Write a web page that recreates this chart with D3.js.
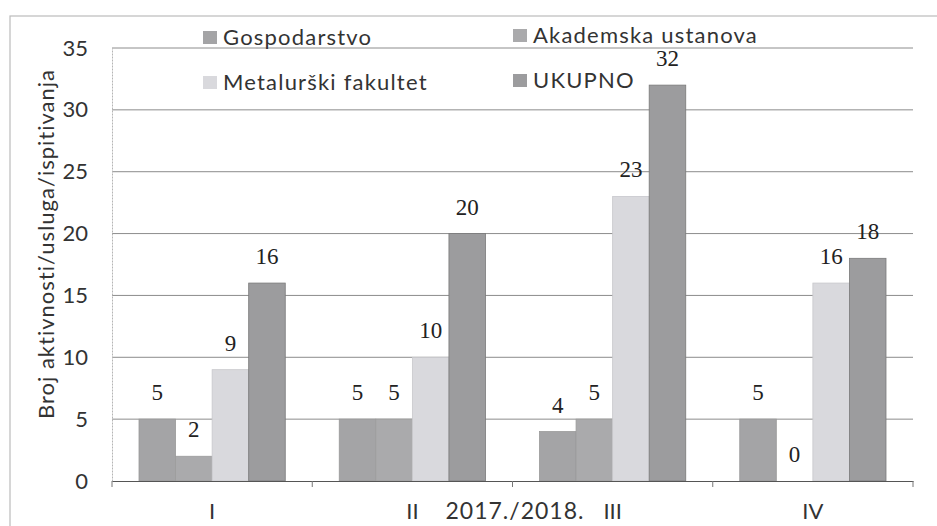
<!DOCTYPE html>
<html lang="hr">
<head>
<meta charset="UTF-8">
<title>Broj aktivnosti/usluga/ispitivanja 2017./2018.</title>
<script src="https://d3js.org/d3.v7.min.js"></script>
<style>
  body { margin: 0; background: #fff; }
  svg { display: block; }
  .tick-lbl { font-family: Lato, "Open Sans", sans-serif; font-size: 22px; fill: #333; }
  .val { font-family: "Liberation Serif", "DejaVu Serif", serif; font-size: 23px; fill: #222; }
  .leg { font-family: Lato, "Open Sans", sans-serif; font-size: 22px; fill: #333; letter-spacing: 1.2px; }
</style>
</head>
<body>
<svg width="937" height="526"></svg>
<script>
// data
const categories = ["I", "II", "III", "IV"];
const seriesNames = ["Gospodarstvo", "Akademska ustanova", "Metalurški fakultet", "UKUPNO"];
const gospodarstvo = [5, 5, 4, 5];
const akademska = [2, 5, 5, 0];
const metalurski = [9, 10, 23, 16];
const ukupno = [16, 20, 32, 18];
const yTicks = [0, 5, 10, 15, 20, 25, 30, 35];
const xTitle = "2017./2018.";
const yTitle = "Broj aktivnosti/usluga/ispitivanja";

const values = [gospodarstvo, akademska, metalurski, ukupno];
const colors = ["#a4a4a6", "#aaaaac", "#d9d9dd", "#9c9c9e"];
const strokes = ["#999", "#9c9c9c", "#c8c8cc", "#7a7a7a"];

const svg = d3.select("svg");

// outer chart border (scan frame)
svg.append("rect")
  .attr("x", 10).attr("y", 16)
  .attr("width", 960).attr("height", 560)
  .attr("fill", "none").attr("stroke", "#bbb").attr("stroke-width", 1.2);

const plotLeft = 112, plotRight = 913, plotTop = 48, plotBottom = 481;

const y = d3.scaleLinear().domain([0, 35]).range([plotBottom, plotTop]);
const x0 = d3.scaleBand().domain(categories).range([plotLeft, plotRight]).padding(0);
const x1 = d3.scaleBand().domain(seriesNames)
  .range([27, x0.bandwidth() - 27]).padding(0);

// gridlines
svg.append("g")
  .selectAll("line")
  .data(yTicks.filter(d => d > 0))
  .join("line")
  .attr("x1", plotLeft).attr("x2", plotRight)
  .attr("y1", d => y(d)).attr("y2", d => y(d))
  .attr("stroke", "#8c8c8c").attr("stroke-width", 1);

// y axis
const yAxis = svg.append("g")
  .attr("transform", `translate(${plotLeft},0)`)
  .call(d3.axisLeft(y).tickValues(yTicks).tickSize(0).tickPadding(24));
yAxis.select(".domain").attr("stroke", "#b5b5b5").attr("stroke-dasharray", "2,1");
yAxis.selectAll("text").attr("class", "tick-lbl").attr("font-size", null).attr("font-family", null);

// bars
const groups = svg.append("g")
  .selectAll("g")
  .data(categories)
  .join("g")
  .attr("transform", d => `translate(${x0(d)},0)`);

groups.selectAll("rect")
  .data((c, i) => seriesNames.map((s, k) => ({ s, k, v: values[k][i] })))
  .join("rect")
  .attr("x", d => x1(d.s))
  .attr("y", d => y(d.v))
  .attr("width", x1.bandwidth())
  .attr("height", d => y(0) - y(d.v))
  .attr("fill", d => colors[d.k])
  .attr("stroke", d => strokes[d.k])
  .attr("stroke-width", 0.8);

groups.selectAll("text")
  .data((c, i) => seriesNames.map((s, k) => ({ s, k, v: values[k][i] })))
  .join("text")
  .attr("class", "val")
  .attr("x", d => x1(d.s) + x1.bandwidth() / 2)
  .attr("y", d => y(d.v) - 19)
  .attr("text-anchor", "middle")
  .text(d => d.v);

// x axis
const xAxis = svg.append("g")
  .attr("transform", `translate(0,${plotBottom})`)
  .call(d3.axisBottom(x0).tickSize(0).tickPadding(22));
xAxis.select(".domain").attr("stroke", "#555");
xAxis.selectAll("text").attr("class", "tick-lbl").attr("font-size", null).attr("font-family", null);

// boundary ticks between categories
svg.append("g")
  .selectAll("line")
  .data(categories.map(c => x0(c)).concat([plotRight]))
  .join("line")
  .attr("x1", d => d).attr("x2", d => d)
  .attr("y1", plotBottom).attr("y2", plotBottom + 6)
  .attr("stroke", "#777");

// axis titles
svg.append("text")
  .attr("class", "tick-lbl")
  .attr("x", 515).attr("y", 519)
  .attr("text-anchor", "middle")
  .style("font-size", "23px")
  .style("letter-spacing", "1px")
  .text(xTitle);

svg.append("text")
  .attr("class", "tick-lbl")
  .attr("transform", "translate(54,244) rotate(-90)")
  .attr("text-anchor", "middle")
  .style("font-size", "22px")
  .style("letter-spacing", "1px")
  .text(yTitle);

// legend, 2 x 2
const legendPos = [[203, 38], [513, 36], [203, 83], [513, 81]];
const legend = svg.append("g")
  .selectAll("g")
  .data(seriesNames)
  .join("g")
  .attr("transform", (d, i) => `translate(${legendPos[i][0]},${legendPos[i][1]})`);

legend.append("rect")
  .attr("x", 0).attr("y", -7)
  .attr("width", 14).attr("height", 13)
  .attr("fill", (d, i) => colors[i]);

legend.append("text")
  .attr("class", "leg")
  .attr("x", 20).attr("y", 7)
  .text(d => d);
</script>
</body>
</html>
